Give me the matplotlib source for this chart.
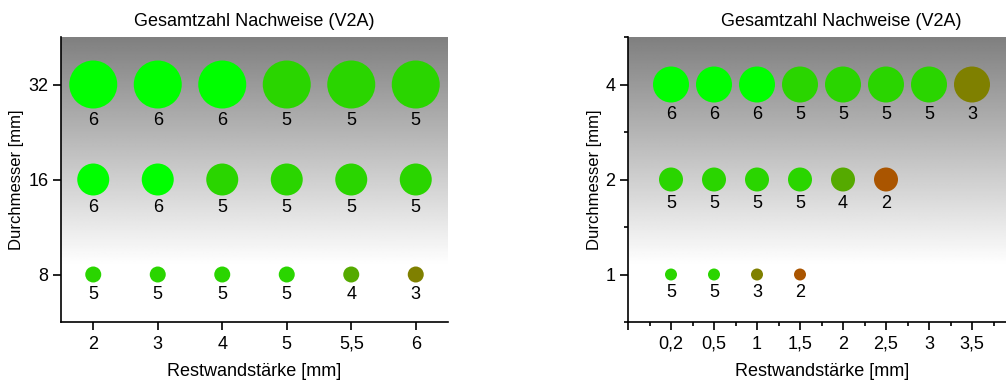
import numpy as np
import matplotlib
matplotlib.use('Agg')
import matplotlib.pyplot as plt
from matplotlib.colors import LinearSegmentedColormap
from matplotlib.ticker import FixedLocator, NullFormatter

plt.rcParams['font.family'] = ['Liberation Sans', 'DejaVu Sans']

# DATA
titel = 'Gesamtzahl Nachweise (V2A)'

links_x = ['2', '3', '4', '5', '5,5', '6']
links_d = [32, 16, 8]
links_n = [
    [6, 6, 6, 5, 5, 5],
    [6, 6, 5, 5, 5, 5],
    [5, 5, 5, 5, 4, 3],
]

rechts_x = ['0,2', '0,5', '1', '1,5', '2', '2,5', '3', '3,5']
rechts_d = [4, 2, 1]
rechts_n = [
    [6, 6, 6, 5, 5, 5, 5, 3],
    [5, 5, 5, 5, 4, 2],
    [5, 5, 3, 2],
]

# rot (0 Nachweise) -> gruen (6 Nachweise)
cmap = LinearSegmentedColormap.from_list('rg', ['#ff0000', '#00ff00'])
PX = 72 / 100  # pt pro Pixel
FS = 13


def hintergrund(ax):
    t = np.linspace(0, 1, 256)  # 0 = unten, 1 = oben
    g = np.clip(1.0 - 0.5 * (t - 0.2) / 0.8, 0.5, 1.0)
    ax.imshow(g[::-1, None], cmap='gray', vmin=0, vmax=1, aspect='auto',
              extent=(0, 1, 0, 1), transform=ax.transAxes, zorder=0,
              interpolation='bilinear')


def kreise(ax, d_werte, n_werte, durchm):
    for d, reihe in zip(d_werte, n_werte):
        dpx = durchm(d)
        xs = np.arange(1, len(reihe) + 1)
        ax.scatter(xs, [d] * len(reihe), s=(dpx * PX) ** 2,
                   c=reihe, cmap=cmap, vmin=0, vmax=6, linewidths=0, zorder=3)
        for x, n in zip(xs, reihe):
            ax.annotate(str(n), (x, d), xytext=(0, -(dpx / 2 + 12) * PX),
                        textcoords='offset points', ha='center', va='center',
                        fontsize=FS, zorder=4)


def achsen(ax, xlab_x, ylab_x):
    ax.set_yscale('log', base=2)
    for s in ['top', 'right']:
        ax.spines[s].set_visible(False)
    for s in ['left', 'bottom']:
        ax.spines[s].set_linewidth(1.2)
    ax.tick_params(which='major', direction='out', length=6, width=1.2,
                   labelsize=FS)
    ax.tick_params(axis='x', pad=4)
    ax.tick_params(axis='y', pad=3)
    ax.tick_params(which='minor', direction='out', length=3, width=1.2)
    ax.set_xlabel('Restwandstärke [mm]', fontsize=FS, va='center')
    ax.set_ylabel('Durchmesser [mm]', fontsize=12, va='center')
    ax.xaxis.set_label_coords(xlab_x, -0.172)
    ax.yaxis.set_label_coords(ylab_x, 0.5)


fig = plt.figure(figsize=(10.06, 3.83), dpi=100)

# linkes Diagramm
ax1 = fig.add_axes([61 / 1006, 1 - 322 / 383, 387 / 1006, 285 / 383])
hintergrund(ax1)
kreise(ax1, links_d, links_n, lambda d: 16 * (np.log2(d) - 2))
achsen(ax1, 0.5, -44 / 387)
ax1.set_xlim(0.5, len(links_x) + 0.5)
ax1.set_ylim(min(links_d) / np.sqrt(2), max(links_d) * np.sqrt(2))
ax1.set_xticks(np.arange(1, len(links_x) + 1), links_x)
ax1.yaxis.set_major_locator(FixedLocator(links_d))
ax1.set_yticklabels([str(d) for d in links_d])
ax1.yaxis.set_minor_locator(FixedLocator([]))
ax1.text(0.5, 1.053, titel, transform=ax1.transAxes, ha='center',
         va='center', fontsize=13)

# rechtes Diagramm
ax2 = fig.add_axes([628 / 1006, 1 - 322 / 383, 378 / 1006, 285 / 383])
hintergrund(ax2)
kreise(ax2, rechts_d, rechts_n, lambda d: 12 * (np.log2(d) + 1))
achsen(ax2, 194 / 378, -33 / 378)
ax2.set_xlim(0, 378 / 43)
ax2.set_ylim(min(rechts_d) / np.sqrt(2), max(rechts_d) * np.sqrt(2))
ax2.set_xticks(np.arange(0, len(rechts_x) + 1), [''] + rechts_x)
ax2.xaxis.set_minor_locator(FixedLocator(np.arange(0.5, len(rechts_x) + 1, 1)))
ax2.yaxis.set_major_locator(FixedLocator(rechts_d))
ax2.set_yticklabels([str(d) for d in rechts_d])
ax2.yaxis.set_minor_locator(FixedLocator(
    [d * np.sqrt(2) for d in rechts_d] + [min(rechts_d) / np.sqrt(2)]))
ax2.yaxis.set_minor_formatter(NullFormatter())
ax2.text(213 / 378, 1.053, titel, transform=ax2.transAxes, ha='center',
         va='center', fontsize=13)

fig.savefig('out.png', dpi=100)
